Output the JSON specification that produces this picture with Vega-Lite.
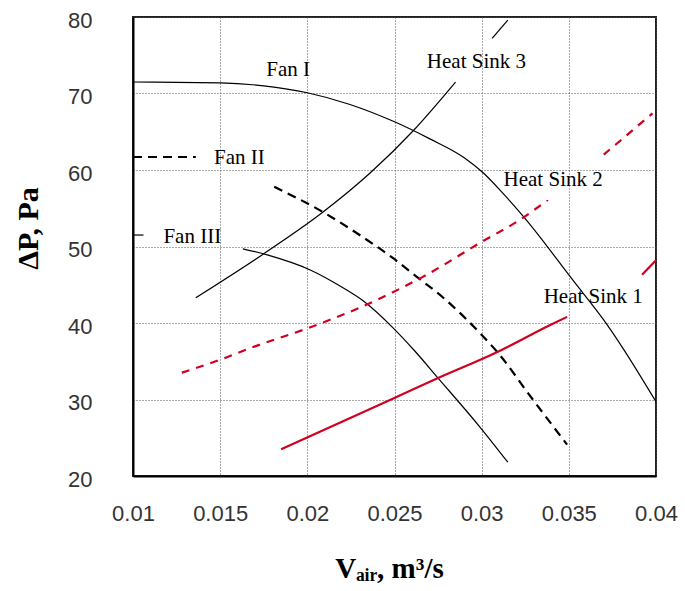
{
  "$schema": "https://vega.github.io/schema/vega-lite/v6.json",
  "width": 523,
  "height": 459,
  "autosize": {"type": "none"},
  "padding": {"left": 133, "top": 17, "right": 29, "bottom": 115},
  "background": "white",
  "config": {"view": {"stroke": "#222", "strokeWidth": 2}},
  "datasets": {
    "curves": [
      {"s": "Fan I", "g": "f1", "x": 0.0100, "y": 71.5},
      {"s": "Fan I", "g": "f1", "x": 0.0150, "y": 71.4},
      {"s": "Fan I", "g": "f1", "x": 0.0175, "y": 71.0},
      {"s": "Fan I", "g": "f1", "x": 0.0200, "y": 70.1},
      {"s": "Fan I", "g": "f1", "x": 0.0224, "y": 68.6},
      {"s": "Fan I", "g": "f1", "x": 0.0250, "y": 66.3},
      {"s": "Fan I", "g": "f1", "x": 0.0270, "y": 64.1},
      {"s": "Fan I", "g": "f1", "x": 0.0290, "y": 61.6},
      {"s": "Fan I", "g": "f1", "x": 0.0301, "y": 59.6},
      {"s": "Fan I", "g": "f1", "x": 0.0312, "y": 57.0},
      {"s": "Fan I", "g": "f1", "x": 0.0324, "y": 53.9},
      {"s": "Fan I", "g": "f1", "x": 0.0353, "y": 45.4},
      {"s": "Fan I", "g": "f1", "x": 0.0370, "y": 40.4},
      {"s": "Fan I", "g": "f1", "x": 0.0379, "y": 37.4},
      {"s": "Fan I", "g": "f1", "x": 0.0400, "y": 29.7},

      {"s": "Fan II", "g": "f2", "x": 0.0181, "y": 57.8},
      {"s": "Fan II", "g": "f2", "x": 0.0209, "y": 54.5},
      {"s": "Fan II", "g": "f2", "x": 0.0230, "y": 51.5},
      {"s": "Fan II", "g": "f2", "x": 0.0249, "y": 48.5},
      {"s": "Fan II", "g": "f2", "x": 0.0263, "y": 46.0},
      {"s": "Fan II", "g": "f2", "x": 0.0278, "y": 43.3},
      {"s": "Fan II", "g": "f2", "x": 0.0301, "y": 38.2},
      {"s": "Fan II", "g": "f2", "x": 0.0309, "y": 36.2},
      {"s": "Fan II", "g": "f2", "x": 0.0328, "y": 30.4},
      {"s": "Fan II", "g": "f2", "x": 0.0349, "y": 24.1},
      {"s": "Fan II", "g": "f2leg", "x": 0.0100, "y": 61.7},
      {"s": "Fan II", "g": "f2leg", "x": 0.0136, "y": 61.7},

      {"s": "Fan III", "g": "f3", "x": 0.0163, "y": 49.7},
      {"s": "Fan III", "g": "f3", "x": 0.0177, "y": 48.9},
      {"s": "Fan III", "g": "f3", "x": 0.0202, "y": 46.9},
      {"s": "Fan III", "g": "f3", "x": 0.0219, "y": 44.8},
      {"s": "Fan III", "g": "f3", "x": 0.0232, "y": 42.9},
      {"s": "Fan III", "g": "f3", "x": 0.0249, "y": 39.4},
      {"s": "Fan III", "g": "f3", "x": 0.0261, "y": 36.5},
      {"s": "Fan III", "g": "f3", "x": 0.0275, "y": 32.8},
      {"s": "Fan III", "g": "f3", "x": 0.0299, "y": 26.4},
      {"s": "Fan III", "g": "f3", "x": 0.0315, "y": 21.8},
      {"s": "Fan III", "g": "f3leg", "x": 0.0100, "y": 51.5},
      {"s": "Fan III", "g": "f3leg", "x": 0.0106, "y": 51.5},

      {"s": "Heat Sink 3", "g": "h3a", "x": 0.0136, "y": 43.3},
      {"s": "Heat Sink 3", "g": "h3a", "x": 0.0174, "y": 48.9},
      {"s": "Heat Sink 3", "g": "h3a", "x": 0.0209, "y": 54.5},
      {"s": "Heat Sink 3", "g": "h3a", "x": 0.0236, "y": 59.6},
      {"s": "Heat Sink 3", "g": "h3a", "x": 0.0261, "y": 65.2},
      {"s": "Heat Sink 3", "g": "h3a", "x": 0.0285, "y": 71.5},
      {"s": "Heat Sink 3", "g": "h3b", "x": 0.0306, "y": 77.2},
      {"s": "Heat Sink 3", "g": "h3b", "x": 0.0315, "y": 79.6},

      {"s": "Heat Sink 2", "g": "h2a", "x": 0.0128, "y": 33.5},
      {"s": "Heat Sink 2", "g": "h2a", "x": 0.0150, "y": 35.2},
      {"s": "Heat Sink 2", "g": "h2a", "x": 0.0167, "y": 36.7},
      {"s": "Heat Sink 2", "g": "h2a", "x": 0.0200, "y": 39.3},
      {"s": "Heat Sink 2", "g": "h2a", "x": 0.0230, "y": 42.0},
      {"s": "Heat Sink 2", "g": "h2a", "x": 0.0255, "y": 44.7},
      {"s": "Heat Sink 2", "g": "h2a", "x": 0.0266, "y": 46.0},
      {"s": "Heat Sink 2", "g": "h2a", "x": 0.0300, "y": 50.6},
      {"s": "Heat Sink 2", "g": "h2a", "x": 0.0322, "y": 53.5},
      {"s": "Heat Sink 2", "g": "h2a", "x": 0.0338, "y": 56.1},
      {"s": "Heat Sink 2", "g": "h2b", "x": 0.0370, "y": 62.0},
      {"s": "Heat Sink 2", "g": "h2b", "x": 0.0398, "y": 67.4},

      {"s": "Heat Sink 1", "g": "h1a", "x": 0.0185, "y": 23.5},
      {"s": "Heat Sink 1", "g": "h1a", "x": 0.0249, "y": 30.1},
      {"s": "Heat Sink 1", "g": "h1a", "x": 0.0275, "y": 32.8},
      {"s": "Heat Sink 1", "g": "h1a", "x": 0.0309, "y": 36.2},
      {"s": "Heat Sink 1", "g": "h1a", "x": 0.0339, "y": 39.7},
      {"s": "Heat Sink 1", "g": "h1a", "x": 0.0349, "y": 40.8},
      {"s": "Heat Sink 1", "g": "h1b", "x": 0.0392, "y": 46.3},
      {"s": "Heat Sink 1", "g": "h1b", "x": 0.0400, "y": 48.2}
    ],
    "labels": [
      {"label": "Fan I", "x": 0.0189, "y": 73.1},
      {"label": "Fan II", "x": 0.0161, "y": 61.6},
      {"label": "Fan III", "x": 0.0134, "y": 51.2},
      {"label": "Heat Sink 3", "x": 0.0297, "y": 74.1},
      {"label": "Heat Sink 2", "x": 0.0341, "y": 58.7},
      {"label": "Heat Sink 1", "x": 0.0364, "y": 43.4}
    ]
  },
  "encoding": {
    "x": {
      "field": "x", "type": "quantitative",
      "scale": {"domain": [0.01, 0.04], "nice": false, "zero": false},
      "axis": {
        "values": [0.01, 0.015, 0.02, 0.025, 0.03, 0.035, 0.04],
        "format": "~g",
        "grid": true, "gridColor": "#555", "gridDash": [1, 2], "gridWidth": 1, "gridOpacity": 1,
        "ticks": false,
        "domainColor": "#000", "domainWidth": 2,
        "labelFont": "Liberation Sans", "labelFontSize": 22, "labelColor": "#333",
        "labelPadding": 27, "labelFlush": false, "labelOverlap": false,
        "title": "Vₐᵢᵣ, m³/s",
        "titleFont": "Liberation Serif", "titleFontWeight": "bold", "titleFontSize": 29, "titleColor": "#000",
        "titleX": 256, "titleY": 101, "titleBaseline": "alphabetic", "titleAlign": "center"
      }
    },
    "y": {
      "field": "y", "type": "quantitative",
      "scale": {"domain": [20, 80], "nice": false, "zero": false},
      "axis": {
        "values": [20, 30, 40, 50, 60, 70, 80],
        "grid": true, "gridColor": "#555", "gridDash": [1, 2], "gridWidth": 1, "gridOpacity": 1,
        "ticks": false,
        "domainColor": "#000", "domainWidth": 2,
        "labelFont": "Liberation Sans", "labelFontSize": 22, "labelColor": "#333",
        "labelPadding": 41, "labelOffset": 3,
        "title": "ΔP, Pa",
        "titleFont": "Liberation Serif", "titleFontWeight": "bold", "titleFontSize": 30, "titleColor": "#000",
        "titleAngle": -90, "titleX": -96, "titleY": 211, "titleBaseline": "alphabetic", "titleAlign": "center"
      }
    }
  },
  "layer": [
    {
      "data": {"name": "labels"},
      "mark": {"type": "text", "font": "Liberation Serif", "fontSize": 21, "color": "#000", "baseline": "middle", "align": "center"},
      "encoding": {"text": {"field": "label"}}
    },
    {
      "data": {"name": "curves"},
      "transform": [{"filter": "datum.s === 'Fan I' || datum.s === 'Fan III' || datum.s === 'Heat Sink 3'"}],
      "mark": {"type": "line", "color": "#000", "strokeWidth": 1.2, "interpolate": "monotone"},
      "encoding": {"detail": {"field": "g"}}
    },
    {
      "data": {"name": "curves"},
      "transform": [{"filter": "datum.s === 'Fan II'"}],
      "mark": {"type": "line", "color": "#000", "strokeWidth": 2.2, "strokeDash": [9, 6], "interpolate": "monotone"},
      "encoding": {"detail": {"field": "g"}}
    },
    {
      "data": {"name": "curves"},
      "transform": [{"filter": "datum.s === 'Heat Sink 2'"}],
      "mark": {"type": "line", "color": "#d00020", "strokeWidth": 2.2, "strokeDash": [8, 7], "interpolate": "monotone"},
      "encoding": {"detail": {"field": "g"}}
    },
    {
      "data": {"name": "curves"},
      "transform": [{"filter": "datum.s === 'Heat Sink 1'"}],
      "mark": {"type": "line", "color": "#d00020", "strokeWidth": 2.2, "interpolate": "monotone"},
      "encoding": {"detail": {"field": "g"}}
    }
  ]
}
